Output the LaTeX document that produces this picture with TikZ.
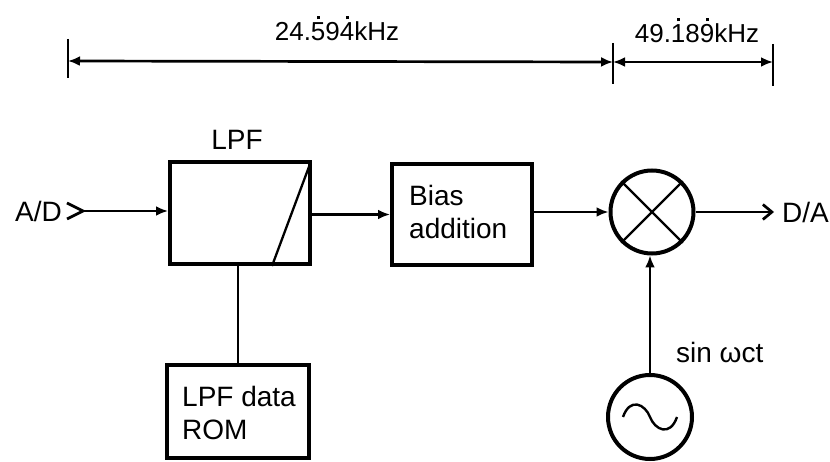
\documentclass[tikz,border=0pt]{standalone}
\usepackage{fontspec}
\setmainfont{Liberation Sans}
\usetikzlibrary{arrows.meta}
\newcommand\rdot[1]{\leavevmode\hbox{\ooalign{#1\cr\hidewidth\raisebox{0.8em}{\rule{3pt}{3pt}}\hidewidth\cr}}}
\begin{document}
\begin{tikzpicture}[x=1pt,y=-1pt,
  box/.style={draw, line width=4pt, inner sep=0pt, anchor=north west},
  ring/.style={draw, circle, line width=4pt, inner sep=0pt},
  conn/.style={line width=2.7pt},
  arr/.style={conn, -{Latex[length=12pt,width=10pt]}},
  openarr/.style={conn, -{Straight Barb[length=9pt,width=15pt,line width=2.7pt]}},
  dimline/.style={line width=2.7pt, {Latex[length=12pt,width=10pt]}-{Latex[length=12pt,width=10pt]}},
  tick/.style={line width=2.3pt},
  lbl/.style={font=\fontsize{28}{33}\selectfont, inner sep=0pt},
  dimlbl/.style={font=\fontsize{26}{30}\selectfont, inner sep=0pt}]
\useasboundingbox (0,0) rectangle (830,462);

% dimension lines
\coordinate (dl) at (68,61);
\coordinate (dm) at (613,62);
\coordinate (dr) at (773,62);
\coordinate (dlt) at (68,39); \coordinate (dlb) at (68,78);
\coordinate (dmt) at (613,43); \coordinate (dmb) at (613,84);
\coordinate (drt) at (773,44); \coordinate (drb) at (773,86);
\draw[tick] (dlt) -- (dlb);
\draw[tick] (dmt) -- (dmb);
\draw[tick] (drt) -- (drb);
\draw[dimline] (dl) -- (dm);
\draw[dimline] (dm) -- (dr);
\node[dimlbl] (f1) at (337,31) {24.\rdot{5}9\rdot{4}kHz};
\node[dimlbl] (f2) at (697,33) {49.\rdot{1}8\rdot{9}kHz};

% blocks
\node[box, minimum width=140pt, minimum height=102pt] (lpf) at (168,160) {};
\draw[line width=2.3pt] (lpf.north east) ++(-2,4) -- ([xshift=-40pt]lpf.south east);
\node[lbl] (lpflbl) at (237,140) {LPF};

\node[box, minimum width=140pt, minimum height=101pt] (bias) at (390,162) {};
\node[lbl, anchor=west, align=left] (biastxt) at (409,212) {Bias\\addition};

\node[box, minimum width=142pt, minimum height=93pt] (rom) at (165,363) {};
\node[lbl, anchor=west, align=left] (romtxt) at (182,413) {LPF data\\ROM};

\node[ring, minimum size=83pt] (mix) at (652,212) {};
\draw[line width=2.4pt] (mix.north west) -- (mix.south east);
\draw[line width=2.4pt] (mix.north east) -- (mix.south west);

\node[ring, minimum size=84pt] (osc) at (650,417) {};
\draw[line width=2.4pt] ([xshift=-27pt]osc.center) .. controls ([xshift=-20pt,yshift=20pt]osc.center) and ([xshift=-5pt,yshift=13pt]osc.center) .. (osc.center)
  .. controls ([xshift=5pt,yshift=-13pt]osc.center) and ([xshift=20pt,yshift=-20pt]osc.center) .. ([xshift=27pt]osc.center);

% input / output
\node[lbl, anchor=west] (ad) at (15,211) {A/D};
\coordinate (adtip) at (83,211);
\coordinate (adt) at (67,203);
\coordinate (adb) at (67,219);
\draw[conn] (adt) -- (adtip) -- (adb);
\draw[arr] (adtip) -- (lpf.west |- adtip);

\node[lbl, anchor=west] (da) at (782,212) {D/A};
\coordinate (daend) at (774,212);
\draw[openarr] (mix.east) -- (daend);

\draw[arr] (lpf.east |- bias.west) -- (bias.west);
\draw[arr] (bias.east |- mix.west) -- (mix.west);
\draw[conn] (lpf.south -| rom.north) -- (rom.north);
\draw[arr] (osc.north) -- (osc.north |- mix.south);
\node[lbl, anchor=west] (sin) at (676,352) {sin ωct};
\end{tikzpicture}
\end{document}
